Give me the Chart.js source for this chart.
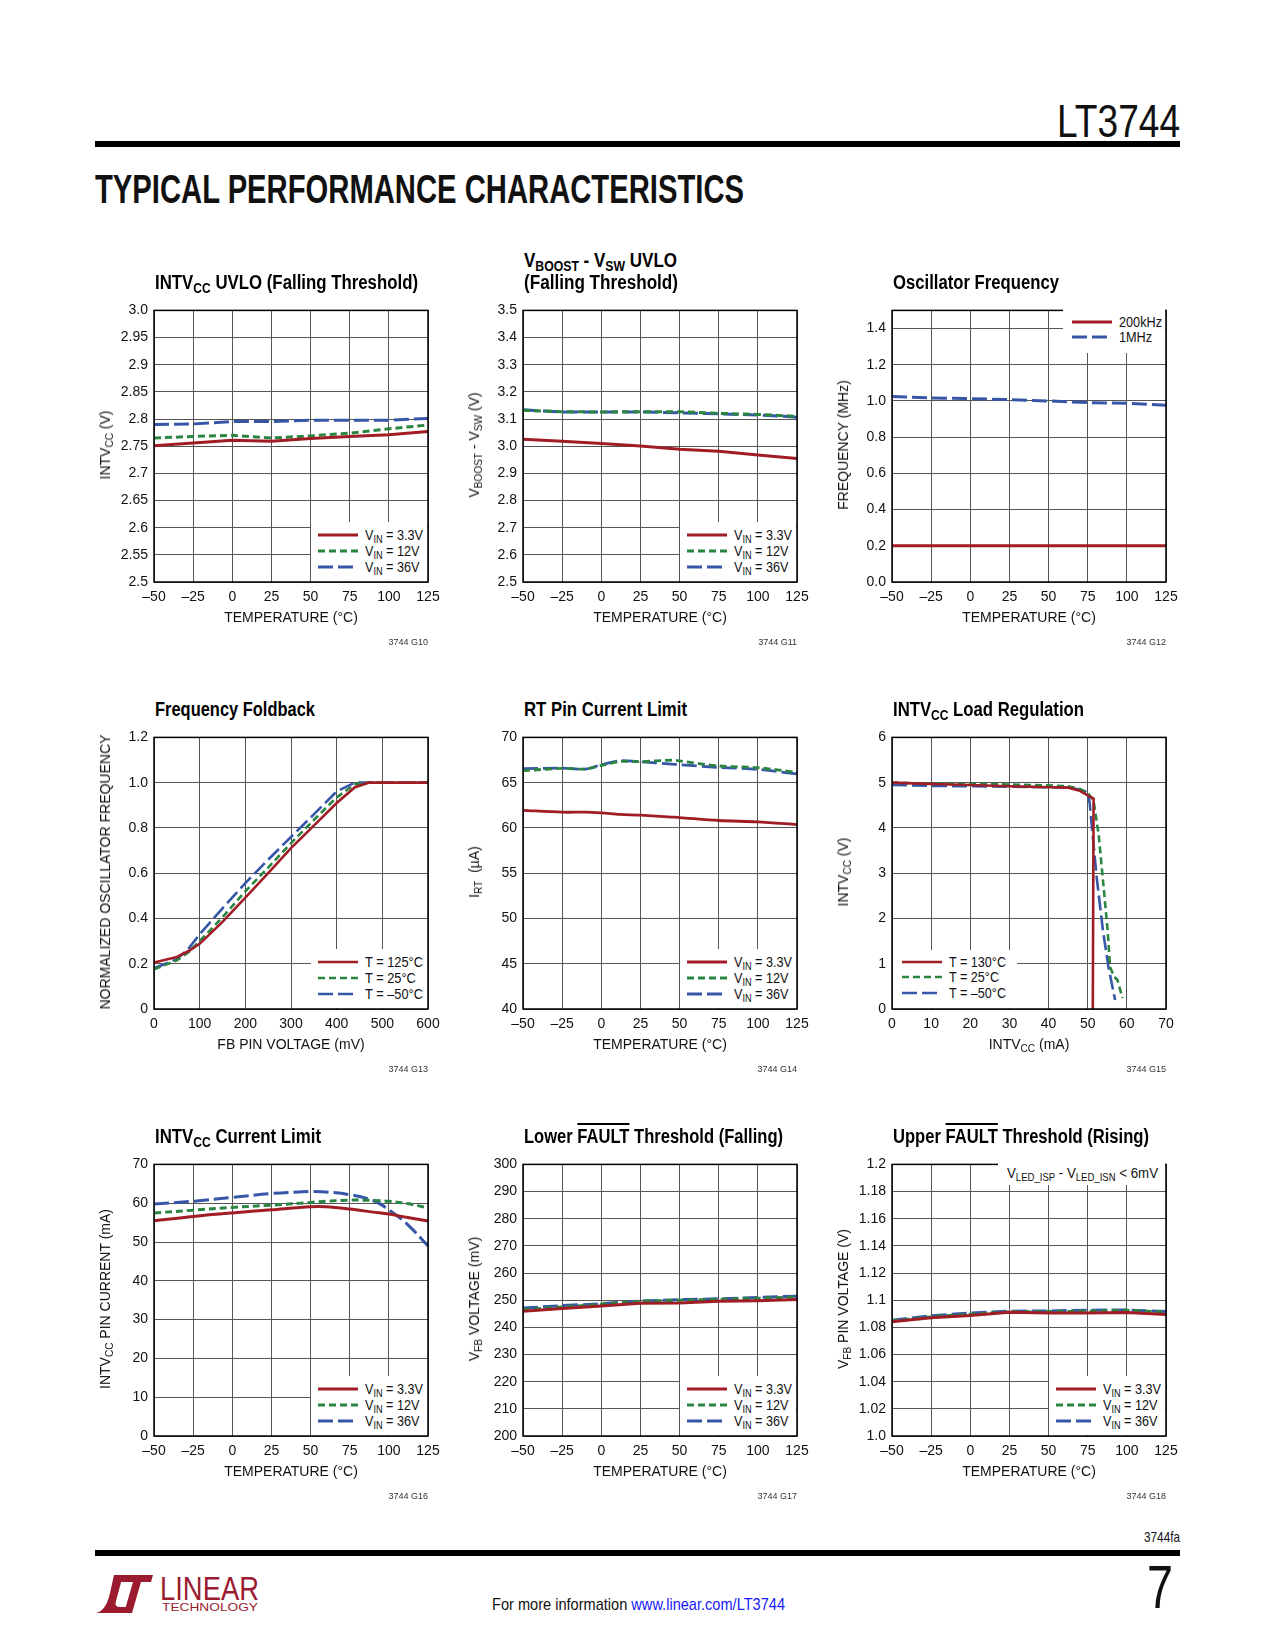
<!DOCTYPE html>
<html>
<head>
<meta charset="utf-8">
<script src="https://cdn.jsdelivr.net/npm/chart.js@4.4.0/dist/chart.umd.min.js"></script>
<style>
  body { margin: 0; background: #fff; }
  #page { position: relative; width: 1275px; height: 1650px; overflow: hidden; background: #fff;
          font-family: "Liberation Sans Narrow", "Arial Narrow", "Liberation Sans", sans-serif; color: #111; }
  .abs { position: absolute; white-space: nowrap; }
  .title { font-weight: bold; font-size: 20px; line-height: 20px; color: #000; }
  .axt { font-size: 14px; line-height: 14px; }
  .note { font-size: 9px; line-height: 9px; color: #333; }
  .lg { font-size: 15px; line-height: 16px; }
  .box { position: absolute; background: #fff; }
  sub { font-size: 72%; vertical-align: -0.3em; line-height: 0; }
  .ovl { text-decoration: overline; }
  canvas { position: absolute; }
</style>
</head>
<body>
<div id="page"></div>
<script>
// ---- data ----
const vinNames = ['V<sub>IN</sub> = 3.3V', 'V<sub>IN</sub> = 12V', 'V<sub>IN</sub> = 36V'];
const foldNames = ['T = 125°C', 'T = 25°C', 'T = –50°C'];
const loadNames = ['T = 130°C', 'T = 25°C', 'T = –50°C'];
const oscNames = ['200kHz', '1MHz'];

const tempC = [-50, -25, 0, 25, 50, 75, 100, 125];
const tempTicks = ['–50', '–25', '0', '25', '50', '75', '100', '125'];

// INTVcc UVLO (falling)
const uvloTicks = ['2.5', '2.55', '2.6', '2.65', '2.7', '2.75', '2.8', '2.85', '2.9', '2.95', '3.0'];
const uvlo33 = [2.751, 2.756, 2.761, 2.759, 2.764, 2.768, 2.771, 2.777];
const uvlo12 = [2.765, 2.768, 2.770, 2.765, 2.769, 2.774, 2.782, 2.789];
const uvlo36 = [2.790, 2.791, 2.7955, 2.7955, 2.798, 2.798, 2.798, 2.801];

// VBOOST - VSW UVLO
const boostTicks = ['2.5', '2.6', '2.7', '2.8', '2.9', '3.0', '3.1', '3.2', '3.3', '3.4', '3.5'];
const boost33 = [3.026, 3.018, 3.010, 3.001, 2.989, 2.981, 2.968, 2.955];
const boost12 = [3.132, 3.127, 3.126, 3.127, 3.127, 3.121, 3.117, 3.110];
const boost36 = [3.134, 3.126, 3.126, 3.126, 3.123, 3.119, 3.115, 3.107];

// oscillator frequency
const oscTicks = ['0.0', '0.2', '0.4', '0.6', '0.8', '1.0', '1.2', '1.4'];
const osc200k = [0.2, 0.2, 0.2, 0.2, 0.2, 0.2, 0.2, 0.2];
const osc1M = [1.025, 1.016, 1.013, 1.007, 1.0, 0.991, 0.987, 0.976];

// frequency foldback
const fbTicks = ['0', '100', '200', '300', '400', '500', '600'];
const foldTicks = ['0', '0.2', '0.4', '0.6', '0.8', '1.0', '1.2'];
const fbMv = [0, 50, 75, 100, 150, 200, 250, 300, 350, 400, 440, 470, 600];
const fold125 = [0.205, 0.23, 0.255, 0.288, 0.385, 0.492, 0.60, 0.711, 0.81, 0.91, 0.98, 1.0, 1.0];
const fold25 = [0.175, 0.215, 0.25, 0.30, 0.405, 0.52, 0.625, 0.733, 0.835, 0.935, 0.993, 1.0, 1.0];
const foldM50 = [0.18, 0.22, 0.265, 0.33, 0.445, 0.556, 0.66, 0.76, 0.86, 0.961, 1.0, 1.0, 1.0];

// RT pin current limit
const rtTemp = [-50, -25, -10, 0, 12, 25, 45, 50, 75, 100, 125];
const rtTicks = ['40', '45', '50', '55', '60', '65', '70'];
const rt33 = [61.95, 61.74, 61.74, 61.66, 61.5, 61.41, 61.2, 61.15, 60.82, 60.67, 60.38];
const rt12 = [66.32, 66.58, 66.5, 66.9, 67.34, 67.32, 67.49, 67.4, 66.85, 66.65, 66.14];
const rt36 = [66.54, 66.61, 66.5, 66.98, 67.42, 67.31, 67.05, 66.98, 66.69, 66.47, 65.96];

// INTVcc load regulation
const loadTicksX = ['0', '10', '20', '30', '40', '50', '60', '70'];
const loadTicksY = ['0', '1', '2', '3', '4', '5', '6'];
const load130mA = [0, 10, 20, 30, 40, 45, 48, 50, 51.5, 51.3];
const load130V = [5.0, 4.97, 4.95, 4.92, 4.90, 4.89, 4.82, 4.72, 4.65, 0];
const load25mA = [0, 10, 20, 30, 40, 45, 48, 50, 51.5, 52.8, 54.0, 55.1, 55.7, 56.8, 57.6, 58.9];
const load25V = [5.0, 4.98, 4.97, 4.96, 4.94, 4.92, 4.86, 4.78, 4.6, 3.85, 2.75, 1.73, 0.93, 0.71, 0.64, 0.24];
const loadM50mA = [0, 10, 20, 30, 40, 45, 48, 50, 50.5, 51.2, 52.3, 53.9, 55.3, 57.0];
const loadM50V = [4.95, 4.93, 4.92, 4.91, 4.90, 4.89, 4.85, 4.78, 4.55, 3.9, 2.9, 1.73, 0.93, 0.2];

// INTVcc current limit
const ilimTemp = [-50, -25, 0, 25, 50, 60, 75, 90, 100, 112, 125];
const ilimTicks = ['0', '10', '20', '30', '40', '50', '60', '70'];
const ilim33 = [55.5, 56.6, 57.5, 58.3, 59.1, 59.1, 58.5, 57.7, 57.2, 56.3, 55.4];
const ilim12 = [57.5, 58.2, 58.9, 59.5, 60.2, 60.5, 60.8, 60.7, 60.5, 59.9, 58.8];
const ilim36 = [59.8, 60.5, 61.5, 62.5, 63.0, 62.9, 62.2, 60.7, 58.3, 54.5, 49.0];

// lower FAULT threshold
const faultLoTicks = ['200', '210', '220', '230', '240', '250', '260', '270', '280', '290', '300'];
const faultLo33 = [245.9, 246.9, 247.9, 248.85, 249.0, 249.6, 249.8, 250.3];
const faultLo12 = [246.5, 247.5, 248.5, 249.6, 250.0, 250.3, 250.7, 251.2];
const faultLo36 = [247.1, 248.0, 248.7, 249.7, 250.2, 250.5, 251.0, 251.5];

// upper FAULT threshold
const faultHiTicks = ['1.0', '1.02', '1.04', '1.06', '1.08', '1.1', '1.12', '1.14', '1.16', '1.18', '1.2'];
const faultHi33 = [1.0841, 1.087, 1.0887, 1.0911, 1.0906, 1.0906, 1.091, 1.0894];
const faultHi12 = [1.0846, 1.0877, 1.0897, 1.0914, 1.0916, 1.0919, 1.0926, 1.0911];
const faultHi36 = [1.0853, 1.0885, 1.0906, 1.0919, 1.0921, 1.0926, 1.0928, 1.0916];

// ---- styles ----
const FONT = '"Liberation Sans Narrow", "Arial Narrow", "Liberation Sans", sans-serif';
const look = {
  solid: { color: '#a11d25', dash: [] },
  short: { color: '#2a8540', dash: [7, 4] },
  long:  { color: '#3657a8', dash: [15, 5] }
};

const num = a => a.map(Number);
const pts = (xs, ys) => xs.map((x, i) => ({ x: x, y: ys[i] }));

const panels = [
  { L: 154, T: 308, title: 'INTV<sub>CC</sub> UVLO (Falling Threshold)', tw: 263,
    yt: 'INTV<sub>CC</sub> (V)', xt: 'TEMPERATURE (°C)', note: '3744 G10',
    xv: tempC, xl: tempTicks, yl: uvloTicks, legend: 'br', names: vinNames,
    series: [[tempC, uvlo33, 'solid'], [tempC, uvlo12, 'short'], [tempC, uvlo36, 'long']] },
  { L: 523, T: 308, title: 'V<sub>BOOST</sub> - V<sub>SW</sub> UVLO', tw: 153, title2: '(Falling Threshold)', tw2: 154,
    yt: 'V<sub>BOOST</sub> - V<sub>SW</sub> (V)', xt: 'TEMPERATURE (°C)', note: '3744 G11',
    xv: tempC, xl: tempTicks, yl: boostTicks, legend: 'br', names: vinNames,
    series: [[tempC, boost33, 'solid'], [tempC, boost12, 'short'], [tempC, boost36, 'long']] },
  { L: 892, T: 308, title: 'Oscillator Frequency', tw: 166,
    yt: 'FREQUENCY (MHz)', xt: 'TEMPERATURE (°C)', note: '3744 G12',
    xv: tempC, xl: tempTicks, yl: oscTicks, ymax: 1.5, legend: 'tr', names: oscNames,
    series: [[tempC, osc200k, 'solid'], [tempC, osc1M, 'long']] },
  { L: 154, T: 735, title: 'Frequency Foldback', tw: 160, lw: 2.6,
    yt: 'NORMALIZED OSCILLATOR FREQUENCY', xt: 'FB PIN VOLTAGE (mV)', note: '3744 G13',
    xv: num(fbTicks), xl: fbTicks, yl: foldTicks, legend: 'br', names: foldNames,
    series: [[fbMv, fold125, 'solid'], [fbMv, fold25, 'short'], [fbMv, foldM50, 'long']] },
  { L: 523, T: 735, title: 'RT Pin Current Limit', tw: 163, lw: 2.8, tension: 0.3,
    yt: 'I<sub>RT</sub>&nbsp;&nbsp;(µA)', xt: 'TEMPERATURE (°C)', note: '3744 G14',
    xv: tempC, xl: tempTicks, yl: rtTicks, legend: 'br', names: vinNames,
    series: [[rtTemp, rt33, 'solid'], [rtTemp, rt12, 'short'], [rtTemp, rt36, 'long']] },
  { L: 892, T: 735, title: 'INTV<sub>CC</sub> Load Regulation', tw: 191, lw: 2.6,
    yt: 'INTV<sub>CC</sub> (V)', xt: 'INTV<sub>CC</sub> (mA)', note: '3744 G15',
    xv: num(loadTicksX), xl: loadTicksX, yl: loadTicksY, legend: 'bl', names: loadNames,
    series: [[load130mA, load130V, 'solid'], [load25mA, load25V, 'short'], [loadM50mA, loadM50V, 'long']] },
  { L: 154, T: 1162, title: 'INTV<sub>CC</sub> Current Limit', tw: 166, tension: 0.35,
    yt: 'INTV<sub>CC</sub> PIN CURRENT (mA)', xt: 'TEMPERATURE (°C)', note: '3744 G16',
    xv: tempC, xl: tempTicks, yl: ilimTicks, legend: 'br', names: vinNames,
    series: [[ilimTemp, ilim33, 'solid'], [ilimTemp, ilim12, 'short'], [ilimTemp, ilim36, 'long']] },
  { L: 523, T: 1162, title: 'Lower <span class="ovl">FAULT</span> Threshold (Falling)', tw: 259,
    yt: 'V<sub>FB</sub> VOLTAGE (mV)', xt: 'TEMPERATURE (°C)', note: '3744 G17',
    xv: tempC, xl: tempTicks, yl: faultLoTicks, legend: 'br', names: vinNames,
    series: [[tempC, faultLo33, 'solid'], [tempC, faultLo12, 'short'], [tempC, faultLo36, 'long']] },
  { L: 892, T: 1162, title: 'Upper <span class="ovl">FAULT</span> Threshold (Rising)', tw: 256,
    yt: 'V<sub>FB</sub> PIN VOLTAGE (V)', xt: 'TEMPERATURE (°C)', note: '3744 G18',
    xv: tempC, xl: tempTicks, yl: faultHiTicks, legend: 'br', names: vinNames,
    cond: 'V<sub>LED_ISP</sub> - V<sub>LED_ISN</sub> &lt; 6mV',
    series: [[tempC, faultHi33, 'solid'], [tempC, faultHi12, 'short'], [tempC, faultHi36, 'long']] }
];

const W = 274, H = 274;
const page = document.getElementById('page');

function put(html, cls, x, y, css) {
  const d = document.createElement('div');
  d.className = 'abs ' + (cls || '');
  d.innerHTML = html;
  d.style.left = x + 'px';
  d.style.top = y + 'px';
  if (css) Object.assign(d.style, css);
  page.appendChild(d);
  return d;
}
function fit(el, w, origin) {
  const s = w / el.getBoundingClientRect().width;
  el.style.transformOrigin = origin || 'left center';
  el.style.transform = 'scaleX(' + s + ')';
  return s;
}
function sample(kind, x, y, lw) {
  const st = look[kind];
  const d = put('<svg width="40" height="6"><line x1="0" y1="3" x2="40" y2="3" stroke="' + st.color +
    '" stroke-width="' + lw + '" stroke-dasharray="' + (st.dash.length ? st.dash.join(',') : 'none') + '"/></svg>', '', x, y - 3);
  d.style.lineHeight = '0';
}

const frame = {
  id: 'frame',
  afterDraw(chart) {
    const a = chart.chartArea, c = chart.ctx;
    c.save();
    c.strokeStyle = '#000';
    c.lineWidth = 1.5;
    c.strokeRect(a.left, a.top, a.right - a.left, a.bottom - a.top);
    c.restore();
  }
};

panels.forEach(p => {
  const R = p.L + W, B = p.T + H;
  const cv = document.createElement('canvas');
  cv.width = W + 92; cv.height = H + 42;
  cv.style.left = (p.L - 70) + 'px';
  cv.style.top = (p.T - 12) + 'px';
  page.appendChild(cv);

  const yv = num(p.yl);
  const lw = p.lw || 3;
  const tickFont = { family: FONT, size: 14 };
  const grid = { color: '#555', lineWidth: 1, drawTicks: false };

  new Chart(cv, {
    type: 'line',
    data: {
      datasets: p.series.map((s, i) => ({
        label: p.names[i].replace(/<[^>]+>/g, ''),
        data: pts(s[0], s[1]),
        borderColor: look[s[2]].color,
        borderDash: look[s[2]].dash,
        borderWidth: lw,
        pointRadius: 0,
        tension: p.tension || 0,
        fill: false
      }))
    },
    options: {
      responsive: false, animation: false, devicePixelRatio: 1,
      layout: { padding: { left: 0, top: 12, right: 22, bottom: 0 } },
      plugins: { legend: { display: false }, tooltip: { enabled: false } },
      scales: {
        x: {
          type: 'linear', min: p.xv[0], max: p.xv[p.xv.length - 1],
          afterBuildTicks: s => { s.ticks = p.xv.map(v => ({ value: v })); },
          afterFit: s => { s.height = 30; },
          ticks: { callback: (v, i) => p.xl[i], padding: 7, autoSkip: false, maxRotation: 0, font: tickFont, color: '#111' },
          grid: grid, border: { display: false }
        },
        y: {
          type: 'linear', min: yv[0], max: p.ymax || yv[yv.length - 1],
          afterBuildTicks: s => { s.ticks = yv.map(v => ({ value: v })); },
          afterFit: s => { s.width = 70; },
          ticks: { callback: (v, i) => p.yl[i], padding: 6, autoSkip: false, font: tickFont, color: '#111' },
          grid: grid, border: { display: false }
        }
      }
    },
    plugins: [frame]
  });

  // titles
  if (p.title2) {
    fit(put(p.title, 'title', p.L + 1, p.T - 58), p.tw);
    fit(put(p.title2, 'title', p.L + 1, p.T - 36), p.tw2);
  } else {
    fit(put(p.title, 'title', p.L + 1, p.T - 36), p.tw);
  }
  // axis titles
  put(p.xt, 'axt', p.L, B + 28, { width: W + 'px', textAlign: 'center' });
  put(p.yt, 'axt', p.L - 49, p.T + H / 2, { transform: 'translate(-50%, -50%) rotate(-90deg)' });
  put(p.note, 'note', R - 60, B + 56, { width: '60px', textAlign: 'right' });

  // legend
  let bx, by, bw, bh, rows, sx, tx, lwid;
  if (p.legend === 'br') {
    bx = R - 117; by = B - 60; bw = 116; bh = 59; rows = [B - 47, B - 31, B - 15]; sx = R - 110; tx = R - 63; lwid = 58;
  } else if (p.legend === 'tr') {
    bx = R - 103; by = p.T + 1; bw = 102; bh = 44; rows = [p.T + 14, p.T + 29]; sx = R - 94; tx = R - 47; lwid = 43;
  } else {
    bx = p.L + 1; by = B - 59; bw = 124; bh = 58; rows = [B - 47, B - 32, B - 16]; sx = p.L + 10; tx = p.L + 57; lwid = 57;
  }
  const box = document.createElement('div');
  box.className = 'box';
  Object.assign(box.style, { left: bx + 'px', top: by + 'px', width: bw + 'px', height: bh + 'px' });
  page.appendChild(box);
  let k = 0;
  p.series.forEach((s, i) => {
    sample(s[2], sx, rows[i], lw);
    const t = put(p.names[i], 'lg', tx, rows[i] - 8);
    if (i === 0) k = lwid / t.getBoundingClientRect().width;
    t.style.transformOrigin = 'left center';
    t.style.transform = 'scaleX(' + k + ')';
  });

  if (p.cond) {
    const cb = document.createElement('div');
    cb.className = 'box';
    Object.assign(cb.style, { left: (R - 168) + 'px', top: (p.T + 1) + 'px', width: '167px', height: '22px' });
    page.appendChild(cb);
    fit(put(p.cond, 'lg', R - 159, p.T + 3), 151);
  }
});

// ---- page header / footer ----
fit(put('LT3744', '', 1057, 97, { fontSize: '47px', lineHeight: '47px' }), 123);
put('', '', 95, 141, { width: '1085px', height: '6px', background: '#000' });
fit(put('TYPICAL PERFORMANCE CHARACTERISTICS', '', 95, 169,
  { fontSize: '40px', lineHeight: '40px', fontWeight: '900' }), 649);

fit(put('3744fa', '', 1144, 1529, { fontSize: '15px', lineHeight: '15px' }), 36);
put('', '', 95, 1550, { width: '1085px', height: '6px', background: '#000' });
fit(put('7', '', 1147, 1557, { fontSize: '61px', lineHeight: '61px' }), 26);
fit(put('For more information <span style="color:#1a1aff">www.linear.com/LT3744</span>', '', 492, 1596,
  { fontSize: '17px', lineHeight: '17px' }), 293);

put('<svg width="60" height="42" viewBox="0 0 60 42">' +
  '<path fill="#9b1c31" d="M1 41 Q11 39 15 21 L19 3 L28 3 L21 29 Q19 35 25 35 L33 35 L31 41 Z"/>' +
  '<path fill="#9b1c31" d="M27 3 L58 3 L56 10 L46 10 L37 41 L29 41 L38 10 L25 10 Z"/></svg>',
  '', 95, 1572, { lineHeight: '0' });
fit(put('LINEAR', '', 160, 1571, { fontSize: '34px', lineHeight: '34px', color: '#9b1c31' }), 99);
fit(put('TECHNOLOGY', '', 162, 1602, { fontSize: '11px', lineHeight: '11px', color: '#9b1c31' }), 96);
</script>
</body>
</html>
